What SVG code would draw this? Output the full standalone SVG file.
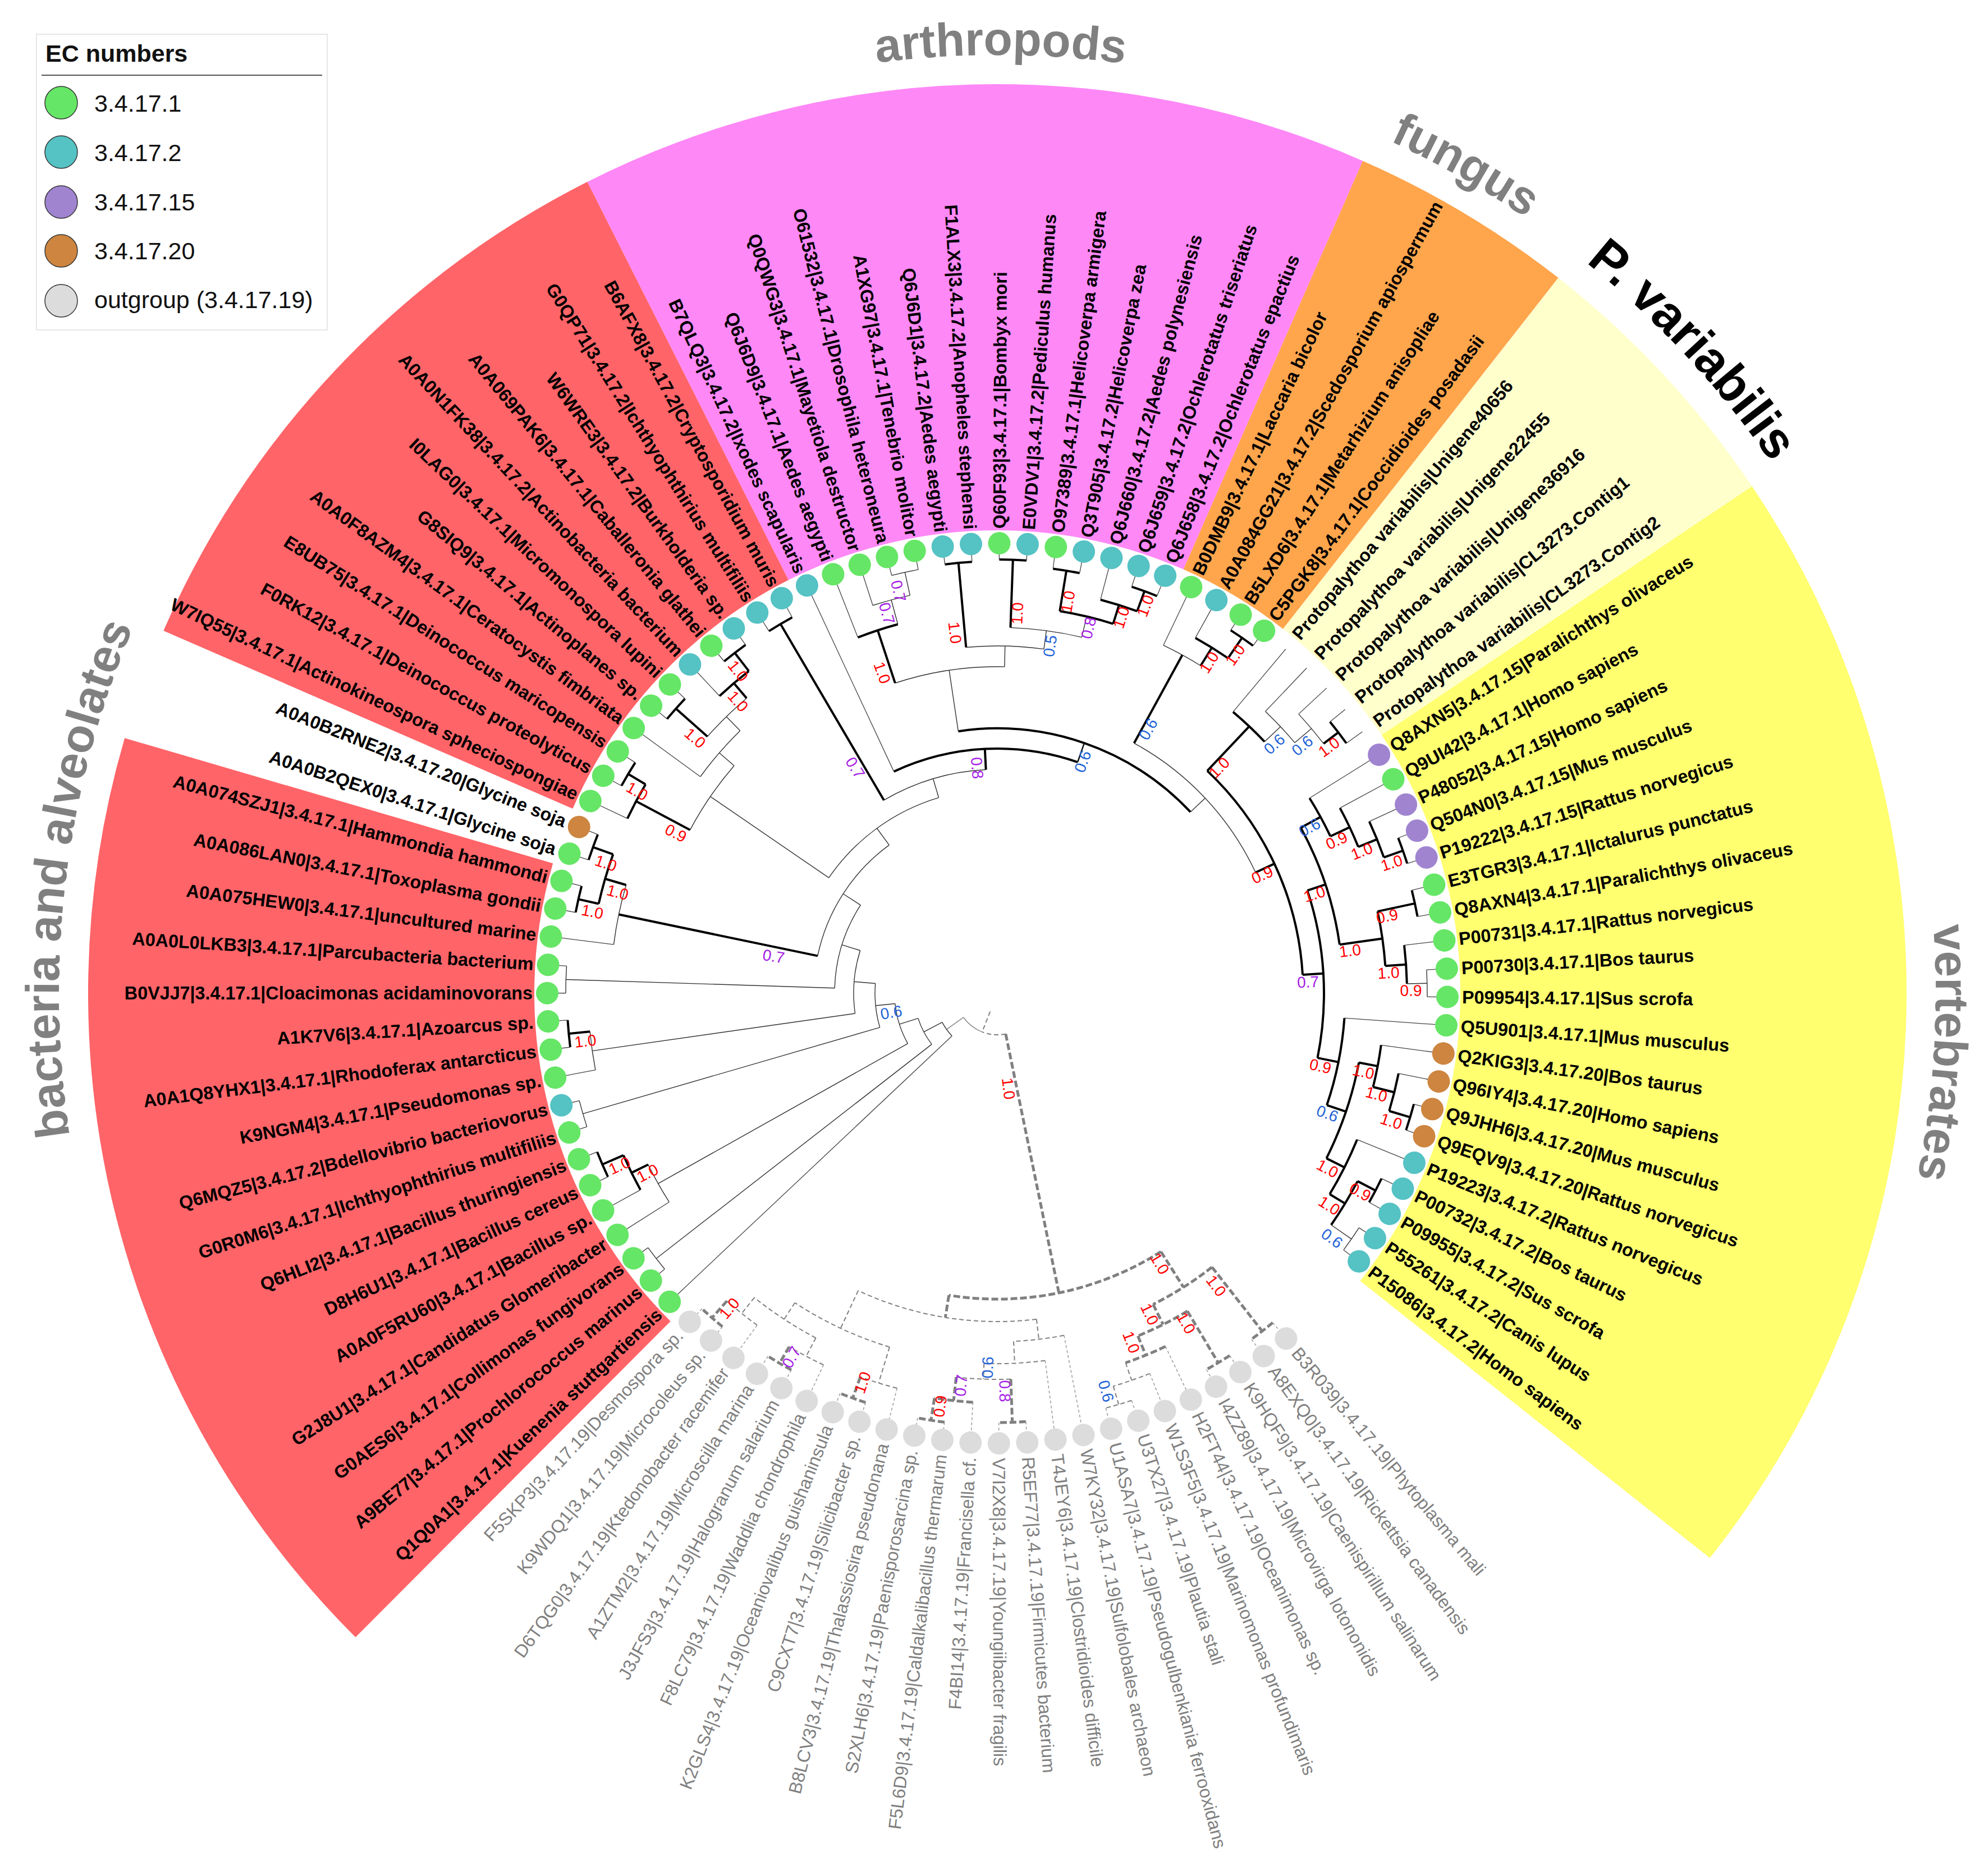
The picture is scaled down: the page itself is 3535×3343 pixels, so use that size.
<svg xmlns="http://www.w3.org/2000/svg" width="3535" height="3343" viewBox="0 0 3535 3343">
<style>
text{font-family:"Liberation Sans",Arial,Helvetica,sans-serif}
.lb{font-size:32.3px;font-weight:bold;fill:#000}
.lo{font-size:32px;fill:#7f7f7f}
.bs{font-size:28px;text-anchor:middle}
.r{fill:#ff0000}.b{fill:#1f63d6}.p{fill:#a51ee6}
.c1{fill:#66e666}.c2{fill:#55c2c4}.c15{fill:#a084d0}.c20{fill:#cd853f}.c19{fill:#dcdcdc}
.tk{stroke:#000;stroke-width:4;fill:none}
.tm{stroke:#111;stroke-width:2.5;fill:none}
.tn{stroke:#333;stroke-width:1.4;fill:none}
.lf{stroke:#444;stroke-width:1.3;fill:none}
.rg{stroke:#888;stroke-width:1.5;fill:none}
.od{stroke:#808080;stroke-width:5;stroke-dasharray:12 5;fill:none}
.ot{stroke:#808080;stroke-width:2;stroke-dasharray:8 5;fill:none}
.ol{stroke:#9a9a9a;stroke-width:1.5;stroke-dasharray:5 4;fill:none}
.sec{fill:none;stroke-width:795}
.grp{font-size:84px;font-weight:bold;fill:#808080}
.lg{font-size:43px;fill:#111}
</style>
<defs>
<path id="ring" d="M -1672 0 A 1672 1672 0 1 1 1672 0 A 1672 1672 0 1 1 -1672 0"/>
</defs>
<rect width="3535" height="3343" fill="#fff"/>
<g transform="translate(1777 1770)">
<g id="clade-backgrounds">
<circle class="sec" r="1222.5" stroke="#ff6468" pathLength="360" stroke-dasharray="61.4 400" transform="rotate(134.9)"/>
<circle class="sec" r="1222.5" stroke="#ff6468" pathLength="360" stroke-dasharray="39.7 400" transform="rotate(203.5)"/>
<circle class="sec" r="1222.5" stroke="#ff88f7" pathLength="360" stroke-dasharray="50.5 400" transform="rotate(243.2)"/>
<circle class="sec" r="1222.5" stroke="#ffa54c" pathLength="360" stroke-dasharray="14.4 400" transform="rotate(293.7)"/>
<circle class="sec" r="1222.5" stroke="#ffffcc" pathLength="360" stroke-dasharray="18 400" transform="rotate(308.1)"/>
<circle class="sec" r="1222.5" stroke="#ffff6f" pathLength="360" stroke-dasharray="72.3 400" transform="rotate(326.1)"/>
</g>
<g id="connectors">
<path class="ot" transform="rotate(78.39)" d="M74 0 A74 74 0 0 1 62.02 40.37"/>
<circle class="rg" r="74" pathLength="360" stroke-dasharray="33.05 400" transform="rotate(111.45)"/>
<line class="ot" transform="rotate(111.45)" x1="35" x2="74"/>
<line class="od" transform="rotate(78.39)" x1="74" x2="545"/>
<path class="od" transform="rotate(57.66)" d="M545 0 A545 545 0 0 1 408.5 360.8"/>
<line class="od" transform="rotate(57.66)" x1="545" x2="620"/>
<path class="od" transform="rotate(51.91)" d="M620 0 A620 620 0 0 1 607.55 123.61"/>
<line class="od" transform="rotate(51.91)" x1="620" x2="765"/>
<path class="od" transform="rotate(50.10)" d="M765 0 A765 765 0 0 1 763.48 48.17"/>
<line class="od" transform="rotate(63.41)" x1="620" x2="660"/>
<path class="od" transform="rotate(59.13)" d="M660 0 A660 660 0 0 1 652.63 98.35"/>
<line class="od" transform="rotate(59.13)" x1="660" x2="767"/>
<path class="od" transform="rotate(57.32)" d="M767 0 A767 767 0 0 1 765.48 48.29"/>
<line class="od" transform="rotate(67.70)" x1="660" x2="697"/>
<path class="od" transform="rotate(64.54)" d="M697 0 A697 697 0 0 1 692.76 76.73"/>
<line class="ot" transform="rotate(70.86)" x1="697" x2="730"/>
<path class="ot" transform="rotate(68.15)" d="M730 0 A730 730 0 0 1 726.75 68.82"/>
<line class="ot" transform="rotate(73.56)" x1="730" x2="764"/>
<path class="ot" transform="rotate(71.75)" d="M764 0 A764 764 0 0 1 762.48 48.10"/>
<line class="od" transform="rotate(99.11)" x1="545" x2="585"/>
<path class="ot" transform="rotate(83.15)" d="M585 0 A585 585 0 0 1 496.54 309.31"/>
<line class="ot" transform="rotate(83.15)" x1="585" x2="621"/>
<path class="ot" transform="rotate(78.97)" d="M621 0 A621 621 0 0 1 614.42 90.18"/>
<line class="ot" transform="rotate(87.32)" x1="621" x2="660"/>
<path class="ot" transform="rotate(82.58)" d="M660 0 A660 660 0 0 1 650.98 108.70"/>
<line class="ot" transform="rotate(92.06)" x1="660" x2="688"/>
<path class="ot" transform="rotate(88.0)" d="M688 0 A688 688 0 0 1 681.10 97.18"/>
<line class="od" transform="rotate(88.0)" x1="688" x2="765"/>
<path class="od" transform="rotate(86.19)" d="M765 0 A765 765 0 0 1 763.48 48.17"/>
<line class="od" transform="rotate(96.12)" x1="688" x2="730"/>
<path class="od" transform="rotate(93.41)" d="M730 0 A730 730 0 0 1 726.74 68.96"/>
<line class="od" transform="rotate(98.83)" x1="730" x2="770"/>
<path class="od" transform="rotate(97.02)" d="M770 0 A770 770 0 0 1 768.47 48.48"/>
<line class="ot" transform="rotate(115.07)" x1="585" x2="659"/>
<path class="ot" transform="rotate(106.94)" d="M659 0 A659 659 0 0 1 632.67 184.41"/>
<line class="ot" transform="rotate(106.94)" x1="659" x2="726"/>
<path class="ot" transform="rotate(104.24)" d="M726 0 A726 726 0 0 1 722.77 68.45"/>
<line class="od" transform="rotate(109.65)" x1="726" x2="766"/>
<path class="od" transform="rotate(107.84)" d="M766 0 A766 766 0 0 1 764.48 48.23"/>
<line class="ot" transform="rotate(123.19)" x1="659" x2="694"/>
<path class="ot" transform="rotate(117.77)" d="M694 0 A694 694 0 0 1 681.64 130.40"/>
<line class="ot" transform="rotate(117.77)" x1="694" x2="731"/>
<path class="ot" transform="rotate(115.06)" d="M731 0 A731 731 0 0 1 727.73 69.05"/>
<line class="od" transform="rotate(120.48)" x1="731" x2="765"/>
<path class="od" transform="rotate(118.67)" d="M765 0 A765 765 0 0 1 763.48 48.17"/>
<line class="ot" transform="rotate(128.6)" x1="694" x2="730"/>
<path class="ot" transform="rotate(125.89)" d="M730 0 A730 730 0 0 1 726.74 68.96"/>
<line class="od" transform="rotate(131.31)" x1="730" x2="770"/>
<path class="od" transform="rotate(129.50)" d="M770 0 A770 770 0 0 1 768.47 48.48"/>
<line class="ol" transform="rotate(50.10)" x1="765" x2="800"/>
<line class="ol" transform="rotate(53.71)" x1="765" x2="800"/>
<line class="ol" transform="rotate(57.32)" x1="767" x2="800"/>
<line class="ol" transform="rotate(60.93)" x1="767" x2="800"/>
<line class="ol" transform="rotate(64.54)" x1="697" x2="800"/>
<line class="ol" transform="rotate(68.15)" x1="730" x2="800"/>
<line class="ol" transform="rotate(71.75)" x1="764" x2="800"/>
<line class="ol" transform="rotate(75.36)" x1="764" x2="800"/>
<line class="ol" transform="rotate(78.97)" x1="621" x2="800"/>
<line class="ol" transform="rotate(82.58)" x1="660" x2="800"/>
<line class="ol" transform="rotate(86.19)" x1="765" x2="800"/>
<line class="ol" transform="rotate(89.80)" x1="765" x2="800"/>
<line class="ol" transform="rotate(93.41)" x1="730" x2="800"/>
<line class="ol" transform="rotate(97.02)" x1="770" x2="800"/>
<line class="ol" transform="rotate(100.63)" x1="770" x2="800"/>
<line class="ol" transform="rotate(104.24)" x1="726" x2="800"/>
<line class="ol" transform="rotate(107.84)" x1="766" x2="800"/>
<line class="ol" transform="rotate(111.45)" x1="766" x2="800"/>
<line class="ol" transform="rotate(115.06)" x1="731" x2="800"/>
<line class="ol" transform="rotate(118.67)" x1="765" x2="800"/>
<line class="ol" transform="rotate(122.28)" x1="765" x2="800"/>
<line class="ol" transform="rotate(125.89)" x1="730" x2="800"/>
<line class="ol" transform="rotate(129.50)" x1="770" x2="800"/>
<line class="ol" transform="rotate(133.11)" x1="770" x2="800"/>
<line class="rg" transform="rotate(144.5)" x1="74" x2="111"/>
<circle class="tn" r="111" pathLength="360" stroke-dasharray="15.57 400" transform="rotate(136.72)"/>
<line class="tn" transform="rotate(152.29)" x1="111" x2="148"/>
<circle class="tn" r="148" pathLength="360" stroke-dasharray="20.32 400" transform="rotate(142.13)"/>
<line class="tn" transform="rotate(162.45)" x1="148" x2="183"/>
<circle class="tn" r="183" pathLength="360" stroke-dasharray="23.5 400" transform="rotate(150.70)"/>
<line class="tn" transform="rotate(174.2)" x1="183" x2="218"/>
<circle class="tn" r="218" pathLength="360" stroke-dasharray="20.83 400" transform="rotate(163.79)"/>
<line class="tn" transform="rotate(184.62)" x1="218" x2="256"/>
<circle class="tn" r="256" pathLength="360" stroke-dasharray="25.42 400" transform="rotate(171.91)"/>
<line class="tn" transform="rotate(197.33)" x1="256" x2="290"/>
<circle class="tn" r="290" pathLength="360" stroke-dasharray="30.99 400" transform="rotate(181.83)"/>
<line class="tn" transform="rotate(212.82)" x1="290" x2="327"/>
<circle class="tn" r="327" pathLength="360" stroke-dasharray="42.12 400" transform="rotate(191.76)"/>
<line class="tn" transform="rotate(233.88)" x1="327" x2="364"/>
<circle class="tn" r="364" pathLength="360" stroke-dasharray="38.9 400" transform="rotate(214.43)"/>
<line class="tn" transform="rotate(253.33)" x1="364" x2="399"/>
<circle class="tn" r="399" pathLength="360" stroke-dasharray="27.5 400" transform="rotate(239.58)"/>
<line class="tn" transform="rotate(142.13)" x1="148" x2="770"/>
<circle class="tn" r="770" pathLength="360" stroke-dasharray="3.6 400" transform="rotate(140.33)"/>
<line class="tn" transform="rotate(150.70)" x1="183" x2="693"/>
<circle class="tn" r="693" pathLength="360" stroke-dasharray="6.32 400" transform="rotate(147.54)"/>
<line class="tk" transform="rotate(153.86)" x1="693" x2="726"/>
<circle class="tk" r="726" pathLength="360" stroke-dasharray="5.42 400" transform="rotate(151.15)"/>
<line class="tk" transform="rotate(156.57)" x1="726" x2="767"/>
<circle class="tk" r="767" pathLength="360" stroke-dasharray="3.61 400" transform="rotate(154.76)"/>
<line class="tn" transform="rotate(163.79)" x1="218" x2="769"/>
<circle class="tn" r="769" pathLength="360" stroke-dasharray="3.61 400" transform="rotate(161.98)"/>
<line class="tn" transform="rotate(171.91)" x1="256" x2="729"/>
<circle class="tn" r="729" pathLength="360" stroke-dasharray="5.42 400" transform="rotate(169.20)"/>
<line class="tk" transform="rotate(174.62)" x1="729" x2="767"/>
<circle class="tk" r="767" pathLength="360" stroke-dasharray="3.61 400" transform="rotate(172.81)"/>
<line class="tn" transform="rotate(181.83)" x1="290" x2="769"/>
<circle class="tn" r="769" pathLength="360" stroke-dasharray="3.61 400" transform="rotate(180.02)"/>
<line class="tk" transform="rotate(191.76)" x1="327" x2="689"/>
<circle class="tn" r="689" pathLength="360" stroke-dasharray="9.03 400" transform="rotate(187.24)"/>
<line class="tk" transform="rotate(196.27)" x1="689" x2="728"/>
<circle class="tk" r="728" pathLength="360" stroke-dasharray="7.22 400" transform="rotate(192.66)"/>
<line class="tk" transform="rotate(192.66)" x1="728" x2="765"/>
<circle class="tk" r="765" pathLength="360" stroke-dasharray="3.61 400" transform="rotate(190.85)"/>
<line class="tk" transform="rotate(199.88)" x1="728" x2="766"/>
<circle class="tk" r="766" pathLength="360" stroke-dasharray="3.61 400" transform="rotate(198.07)"/>
<line class="tn" transform="rotate(214.43)" x1="364" x2="620"/>
<circle class="tn" r="620" pathLength="360" stroke-dasharray="12.85 400" transform="rotate(208.0)"/>
<line class="tk" transform="rotate(208.0)" x1="620" x2="729"/>
<circle class="tk" r="729" pathLength="360" stroke-dasharray="5.42 400" transform="rotate(205.29)"/>
<line class="tk" transform="rotate(210.71)" x1="729" x2="765"/>
<circle class="tk" r="765" pathLength="360" stroke-dasharray="3.61 400" transform="rotate(208.90)"/>
<line class="tn" transform="rotate(220.85)" x1="620" x2="655"/>
<circle class="tn" r="655" pathLength="360" stroke-dasharray="9.48 400" transform="rotate(216.11)"/>
<line class="tn" transform="rotate(225.59)" x1="655" x2="690"/>
<circle class="tn" r="690" pathLength="360" stroke-dasharray="8.12 400" transform="rotate(221.53)"/>
<line class="tk" transform="rotate(221.53)" x1="690" x2="765"/>
<circle class="tk" r="765" pathLength="360" stroke-dasharray="3.61 400" transform="rotate(219.72)"/>
<line class="tk" transform="rotate(229.65)" x1="690" x2="725"/>
<circle class="tk" r="725" pathLength="360" stroke-dasharray="5.42 400" transform="rotate(226.94)"/>
<line class="tk" transform="rotate(232.36)" x1="725" x2="766"/>
<circle class="tk" r="766" pathLength="360" stroke-dasharray="3.61 400" transform="rotate(230.55)"/>
<line class="tk" transform="rotate(239.58)" x1="399" x2="763"/>
<circle class="tk" r="763" pathLength="360" stroke-dasharray="3.61 400" transform="rotate(237.77)"/>
<line class="tk" transform="rotate(267.08)" x1="399" x2="436"/>
<circle class="tk" r="436" pathLength="360" stroke-dasharray="44.17 400" transform="rotate(244.99)"/>
<line class="tm" transform="rotate(289.16)" x1="436" x2="472"/>
<circle class="tk" r="472" pathLength="360" stroke-dasharray="55.28 400" transform="rotate(261.52)"/>
<line class="tn" transform="rotate(261.52)" x1="472" x2="582"/>
<circle class="tn" r="582" pathLength="360" stroke-dasharray="19.51 400" transform="rotate(251.76)"/>
<line class="tk" transform="rotate(251.76)" x1="582" x2="681"/>
<circle class="tk" r="681" pathLength="360" stroke-dasharray="6.31 400" transform="rotate(248.60)"/>
<line class="tn" transform="rotate(254.91)" x1="681" x2="726"/>
<circle class="tn" r="726" pathLength="360" stroke-dasharray="5.42 400" transform="rotate(252.20)"/>
<line class="tn" transform="rotate(257.62)" x1="726" x2="768"/>
<circle class="tn" r="768" pathLength="360" stroke-dasharray="3.61 400" transform="rotate(255.81)"/>
<line class="tn" transform="rotate(271.27)" x1="582" x2="619"/>
<circle class="tn" r="619" pathLength="360" stroke-dasharray="12.86 400" transform="rotate(264.84)"/>
<line class="tk" transform="rotate(264.84)" x1="619" x2="770"/>
<circle class="tk" r="770" pathLength="360" stroke-dasharray="3.61 400" transform="rotate(263.03)"/>
<line class="tn" transform="rotate(277.70)" x1="619" x2="652"/>
<circle class="tn" r="652" pathLength="360" stroke-dasharray="11.28 400" transform="rotate(272.06)"/>
<line class="tk" transform="rotate(272.06)" x1="652" x2="773"/>
<circle class="tk" r="773" pathLength="360" stroke-dasharray="3.61 400" transform="rotate(270.25)"/>
<line class="tn" transform="rotate(283.34)" x1="652" x2="690"/>
<circle class="tk" r="690" pathLength="360" stroke-dasharray="8.12 400" transform="rotate(279.28)"/>
<line class="tk" transform="rotate(279.28)" x1="690" x2="763"/>
<circle class="tk" r="763" pathLength="360" stroke-dasharray="3.61 400" transform="rotate(277.47)"/>
<line class="tk" transform="rotate(287.40)" x1="690" x2="725"/>
<circle class="tk" r="725" pathLength="360" stroke-dasharray="5.41 400" transform="rotate(284.69)"/>
<line class="tk" transform="rotate(290.10)" x1="725" x2="763"/>
<circle class="tk" r="763" pathLength="360" stroke-dasharray="3.61 400" transform="rotate(288.29)"/>
<line class="tn" transform="rotate(316.80)" x1="472" x2="508"/>
<circle class="tn" r="508" pathLength="360" stroke-dasharray="36.26 400" transform="rotate(298.67)"/>
<line class="tk" transform="rotate(298.67)" x1="508" x2="687"/>
<circle class="tn" r="687" pathLength="360" stroke-dasharray="6.32 400" transform="rotate(295.51)"/>
<line class="tk" transform="rotate(301.83)" x1="687" x2="725"/>
<circle class="tk" r="725" pathLength="360" stroke-dasharray="5.42 400" transform="rotate(299.12)"/>
<line class="tk" transform="rotate(304.54)" x1="725" x2="769"/>
<circle class="tk" r="769" pathLength="360" stroke-dasharray="3.61 400" transform="rotate(302.73)"/>
<line class="tk" transform="rotate(334.93)" x1="508" x2="545"/>
<circle class="tk" r="545" pathLength="360" stroke-dasharray="43.19 400" transform="rotate(313.34)"/>
<line class="tk" transform="rotate(313.34)" x1="545" x2="654"/>
<circle class="tk" r="654" pathLength="360" stroke-dasharray="6.77 400" transform="rotate(309.95)"/>
<line class="tn" transform="rotate(316.72)" x1="654" x2="693"/>
<circle class="tn" r="693" pathLength="360" stroke-dasharray="6.32 400" transform="rotate(313.56)"/>
<line class="tn" transform="rotate(319.88)" x1="693" x2="732"/>
<circle class="tn" r="732" pathLength="360" stroke-dasharray="5.41 400" transform="rotate(317.17)"/>
<line class="tk" transform="rotate(322.58)" x1="732" x2="765"/>
<circle class="tk" r="765" pathLength="360" stroke-dasharray="3.6 400" transform="rotate(320.78)"/>
<line class="tk" transform="rotate(356.53)" x1="545" x2="582"/>
<circle class="tk" r="582" pathLength="360" stroke-dasharray="29.76 400" transform="rotate(341.65)"/>
<line class="tk" transform="rotate(341.65)" x1="582" x2="616"/>
<circle class="tk" r="616" pathLength="360" stroke-dasharray="20.53 400" transform="rotate(331.38)"/>
<line class="tk" transform="rotate(331.38)" x1="616" x2="656"/>
<circle class="tk" r="656" pathLength="360" stroke-dasharray="6.77 400" transform="rotate(327.99)"/>
<line class="tk" transform="rotate(334.76)" x1="656" x2="694"/>
<circle class="tk" r="694" pathLength="360" stroke-dasharray="6.32 400" transform="rotate(331.60)"/>
<line class="tk" transform="rotate(337.92)" x1="694" x2="730"/>
<circle class="tk" r="730" pathLength="360" stroke-dasharray="5.42 400" transform="rotate(335.21)"/>
<line class="tk" transform="rotate(340.63)" x1="730" x2="766"/>
<circle class="tk" r="766" pathLength="360" stroke-dasharray="3.61 400" transform="rotate(338.82)"/>
<line class="tk" transform="rotate(351.91)" x1="616" x2="693"/>
<circle class="tk" r="693" pathLength="360" stroke-dasharray="8.12 400" transform="rotate(347.85)"/>
<line class="tk" transform="rotate(347.85)" x1="693" x2="761"/>
<circle class="tk" r="761" pathLength="360" stroke-dasharray="3.61 400" transform="rotate(346.04)"/>
<line class="tk" transform="rotate(355.97)" x1="693" x2="730"/>
<circle class="tk" r="730" pathLength="360" stroke-dasharray="5.41 400" transform="rotate(353.26)"/>
<line class="tn" transform="rotate(358.67)" x1="730" x2="766"/>
<circle class="tn" r="766" pathLength="360" stroke-dasharray="3.6 400" transform="rotate(356.87)"/>
<line class="tk" transform="rotate(371.41)" x1="582" x2="620"/>
<circle class="tk" r="620" pathLength="360" stroke-dasharray="14.67 400" transform="rotate(364.08)"/>
<line class="tk" transform="rotate(378.75)" x1="620" x2="656"/>
<circle class="tk" r="656" pathLength="360" stroke-dasharray="15.79 400" transform="rotate(370.85)"/>
<line class="tk" transform="rotate(370.85)" x1="656" x2="690"/>
<circle class="tk" r="690" pathLength="360" stroke-dasharray="6.32 400" transform="rotate(367.69)"/>
<line class="tk" transform="rotate(374.01)" x1="690" x2="729"/>
<circle class="tk" r="729" pathLength="360" stroke-dasharray="5.42 400" transform="rotate(371.30)"/>
<line class="tk" transform="rotate(376.72)" x1="729" x2="768"/>
<circle class="tk" r="768" pathLength="360" stroke-dasharray="3.61 400" transform="rotate(374.91)"/>
<line class="tk" transform="rotate(386.64)" x1="656" x2="692"/>
<circle class="tk" r="692" pathLength="360" stroke-dasharray="9.03 400" transform="rotate(382.13)"/>
<line class="tk" transform="rotate(391.16)" x1="692" x2="724"/>
<circle class="tk" r="724" pathLength="360" stroke-dasharray="7.21 400" transform="rotate(387.55)"/>
<line class="tk" transform="rotate(387.55)" x1="724" x2="760"/>
<circle class="tk" r="760" pathLength="360" stroke-dasharray="3.61 400" transform="rotate(385.74)"/>
<line class="tn" transform="rotate(394.76)" x1="724" x2="768"/>
<circle class="tn" r="768" pathLength="360" stroke-dasharray="3.6 400" transform="rotate(392.96)"/>
<line class="lf" transform="rotate(136.72)" x1="111" x2="800"/>
<line class="lf" transform="rotate(140.33)" x1="770" x2="800"/>
<line class="lf" transform="rotate(143.93)" x1="770" x2="800"/>
<line class="lf" transform="rotate(147.54)" x1="693" x2="800"/>
<line class="lf" transform="rotate(151.15)" x1="726" x2="800"/>
<line class="lf" transform="rotate(154.76)" x1="767" x2="800"/>
<line class="lf" transform="rotate(158.37)" x1="767" x2="800"/>
<line class="lf" transform="rotate(161.98)" x1="769" x2="800"/>
<line class="lf" transform="rotate(165.59)" x1="769" x2="800"/>
<line class="lf" transform="rotate(169.20)" x1="729" x2="800"/>
<line class="lf" transform="rotate(172.81)" x1="767" x2="800"/>
<line class="lf" transform="rotate(176.42)" x1="767" x2="800"/>
<line class="lf" transform="rotate(180.02)" x1="769" x2="800"/>
<line class="lf" transform="rotate(183.63)" x1="769" x2="800"/>
<line class="lf" transform="rotate(187.24)" x1="689" x2="800"/>
<line class="lf" transform="rotate(190.85)" x1="765" x2="800"/>
<line class="lf" transform="rotate(194.46)" x1="765" x2="800"/>
<line class="lf" transform="rotate(198.07)" x1="766" x2="800"/>
<line class="lf" transform="rotate(201.68)" x1="766" x2="800"/>
<line class="lf" transform="rotate(205.29)" x1="729" x2="800"/>
<line class="lf" transform="rotate(208.90)" x1="765" x2="800"/>
<line class="lf" transform="rotate(212.51)" x1="765" x2="800"/>
<line class="lf" transform="rotate(216.11)" x1="655" x2="800"/>
<line class="lf" transform="rotate(219.72)" x1="765" x2="800"/>
<line class="lf" transform="rotate(223.33)" x1="765" x2="800"/>
<line class="lf" transform="rotate(226.94)" x1="725" x2="800"/>
<line class="lf" transform="rotate(230.55)" x1="766" x2="800"/>
<line class="lf" transform="rotate(234.16)" x1="766" x2="800"/>
<line class="lf" transform="rotate(237.77)" x1="763" x2="800"/>
<line class="lf" transform="rotate(241.38)" x1="763" x2="800"/>
<line class="lf" transform="rotate(244.99)" x1="436" x2="800"/>
<line class="lf" transform="rotate(248.60)" x1="681" x2="800"/>
<line class="lf" transform="rotate(252.20)" x1="726" x2="800"/>
<line class="lf" transform="rotate(255.81)" x1="768" x2="800"/>
<line class="lf" transform="rotate(259.42)" x1="768" x2="800"/>
<line class="lf" transform="rotate(263.03)" x1="770" x2="800"/>
<line class="lf" transform="rotate(266.64)" x1="770" x2="800"/>
<line class="lf" transform="rotate(270.25)" x1="773" x2="800"/>
<line class="lf" transform="rotate(273.86)" x1="773" x2="800"/>
<line class="lf" transform="rotate(277.47)" x1="763" x2="800"/>
<line class="lf" transform="rotate(281.08)" x1="763" x2="800"/>
<line class="lf" transform="rotate(284.69)" x1="725" x2="800"/>
<line class="lf" transform="rotate(288.29)" x1="763" x2="800"/>
<line class="lf" transform="rotate(291.90)" x1="763" x2="800"/>
<line class="lf" transform="rotate(295.51)" x1="687" x2="800"/>
<line class="lf" transform="rotate(299.12)" x1="725" x2="800"/>
<line class="lf" transform="rotate(302.73)" x1="769" x2="800"/>
<line class="lf" transform="rotate(306.34)" x1="769" x2="800"/>
<line class="lf" transform="rotate(309.95)" x1="654" x2="800"/>
<line class="lf" transform="rotate(313.56)" x1="693" x2="800"/>
<line class="lf" transform="rotate(317.17)" x1="732" x2="800"/>
<line class="lf" transform="rotate(320.78)" x1="765" x2="800"/>
<line class="lf" transform="rotate(324.38)" x1="765" x2="800"/>
<line class="lf" transform="rotate(327.99)" x1="656" x2="800"/>
<line class="lf" transform="rotate(331.60)" x1="694" x2="800"/>
<line class="lf" transform="rotate(335.21)" x1="730" x2="800"/>
<line class="lf" transform="rotate(338.82)" x1="766" x2="800"/>
<line class="lf" transform="rotate(342.43)" x1="766" x2="800"/>
<line class="lf" transform="rotate(346.04)" x1="761" x2="800"/>
<line class="lf" transform="rotate(349.65)" x1="761" x2="800"/>
<line class="lf" transform="rotate(353.26)" x1="730" x2="800"/>
<line class="lf" transform="rotate(356.87)" x1="766" x2="800"/>
<line class="lf" transform="rotate(360.47)" x1="766" x2="800"/>
<line class="lf" transform="rotate(364.08)" x1="620" x2="800"/>
<line class="lf" transform="rotate(367.69)" x1="690" x2="800"/>
<line class="lf" transform="rotate(371.30)" x1="729" x2="800"/>
<line class="lf" transform="rotate(374.91)" x1="768" x2="800"/>
<line class="lf" transform="rotate(378.52)" x1="768" x2="800"/>
<line class="lf" transform="rotate(382.13)" x1="692" x2="800"/>
<line class="lf" transform="rotate(385.74)" x1="760" x2="800"/>
<line class="lf" transform="rotate(389.35)" x1="760" x2="800"/>
<line class="lf" transform="rotate(392.96)" x1="768" x2="800"/>
<line class="lf" transform="rotate(396.56)" x1="768" x2="800"/>
</g>
<g id="leaves">
<g id="B3R039" transform="rotate(50.10)"><circle cx="802" r="20" class="c19"/><text class="lo" x="828" dy=".35em">B3R039|3.4.17.19|Phytoplasma mali</text></g>
<g id="A8EXQ0" transform="rotate(53.71)"><circle cx="802" r="20" class="c19"/><text class="lo" x="828" dy=".35em">A8EXQ0|3.4.17.19|Rickettsia canadensis</text></g>
<g id="K9HQF9" transform="rotate(57.32)"><circle cx="802" r="20" class="c19"/><text class="lo" x="828" dy=".35em">K9HQF9|3.4.17.19|Caenispirillum salinarum</text></g>
<g id="I4ZZ89" transform="rotate(60.93)"><circle cx="802" r="20" class="c19"/><text class="lo" x="828" dy=".35em">I4ZZ89|3.4.17.19|Microvirga lotononidis</text></g>
<g id="H2FT44" transform="rotate(64.54)"><circle cx="802" r="20" class="c19"/><text class="lo" x="828" dy=".35em">H2FT44|3.4.17.19|Oceanimonas sp.</text></g>
<g id="W1S3F5" transform="rotate(68.15)"><circle cx="802" r="20" class="c19"/><text class="lo" x="828" dy=".35em">W1S3F5|3.4.17.19|Marinomonas profundimaris</text></g>
<g id="U3TX27" transform="rotate(71.75)"><circle cx="802" r="20" class="c19"/><text class="lo" x="828" dy=".35em">U3TX27|3.4.17.19|Plautia stali</text></g>
<g id="U1ASA7" transform="rotate(75.36)"><circle cx="802" r="20" class="c19"/><text class="lo" x="828" dy=".35em">U1ASA7|3.4.17.19|Pseudogulbenkiania ferrooxidans</text></g>
<g id="W7KY32" transform="rotate(78.97)"><circle cx="802" r="20" class="c19"/><text class="lo" x="828" dy=".35em">W7KY32|3.4.17.19|Sulfolobales archaeon</text></g>
<g id="T4JEY6" transform="rotate(82.58)"><circle cx="802" r="20" class="c19"/><text class="lo" x="828" dy=".35em">T4JEY6|3.4.17.19|Clostridioides difficile</text></g>
<g id="R5EF77" transform="rotate(86.19)"><circle cx="802" r="20" class="c19"/><text class="lo" x="828" dy=".35em">R5EF77|3.4.17.19|Firmicutes bacterium</text></g>
<g id="V7I2X8" transform="rotate(89.80)"><circle cx="802" r="20" class="c19"/><text class="lo" x="828" dy=".35em">V7I2X8|3.4.17.19|Youngiibacter fragilis</text></g>
<g id="F4BI14" transform="rotate(93.41)"><circle cx="802" r="20" class="c19"/><text class="lo" transform="scale(-1)" x="-828" dy=".35em" text-anchor="end">F4BI14|3.4.17.19|Francisella cf.</text></g>
<g id="F5L6D9" transform="rotate(97.02)"><circle cx="802" r="20" class="c19"/><text class="lo" transform="scale(-1)" x="-828" dy=".35em" text-anchor="end">F5L6D9|3.4.17.19|Caldalkalibacillus thermarum</text></g>
<g id="S2XLH6" transform="rotate(100.63)"><circle cx="802" r="20" class="c19"/><text class="lo" transform="scale(-1)" x="-828" dy=".35em" text-anchor="end">S2XLH6|3.4.17.19|Paenisporosarcina sp.</text></g>
<g id="B8LCV3" transform="rotate(104.24)"><circle cx="802" r="20" class="c19"/><text class="lo" transform="scale(-1)" x="-828" dy=".35em" text-anchor="end">B8LCV3|3.4.17.19|Thalassiosira pseudonana</text></g>
<g id="C9CXT7" transform="rotate(107.84)"><circle cx="802" r="20" class="c19"/><text class="lo" transform="scale(-1)" x="-828" dy=".35em" text-anchor="end">C9CXT7|3.4.17.19|Silicibacter sp.</text></g>
<g id="K2GLS4" transform="rotate(111.45)"><circle cx="802" r="20" class="c19"/><text class="lo" transform="scale(-1)" x="-828" dy=".35em" text-anchor="end">K2GLS4|3.4.17.19|Oceaniovalibus guishaninsula</text></g>
<g id="F8LC79" transform="rotate(115.06)"><circle cx="802" r="20" class="c19"/><text class="lo" transform="scale(-1)" x="-828" dy=".35em" text-anchor="end">F8LC79|3.4.17.19|Waddlia chondrophila</text></g>
<g id="J3JFS3" transform="rotate(118.67)"><circle cx="802" r="20" class="c19"/><text class="lo" transform="scale(-1)" x="-828" dy=".35em" text-anchor="end">J3JFS3|3.4.17.19|Halogranum salarium</text></g>
<g id="A1ZTM2" transform="rotate(122.28)"><circle cx="802" r="20" class="c19"/><text class="lo" transform="scale(-1)" x="-828" dy=".35em" text-anchor="end">A1ZTM2|3.4.17.19|Microscilla marina</text></g>
<g id="D6TQG0" transform="rotate(125.89)"><circle cx="802" r="20" class="c19"/><text class="lo" transform="scale(-1)" x="-828" dy=".35em" text-anchor="end">D6TQG0|3.4.17.19|Ktedonobacter racemifer</text></g>
<g id="K9WDQ1" transform="rotate(129.50)"><circle cx="802" r="20" class="c19"/><text class="lo" transform="scale(-1)" x="-828" dy=".35em" text-anchor="end">K9WDQ1|3.4.17.19|Microcoleus sp.</text></g>
<g id="F5SKP3" transform="rotate(133.11)"><circle cx="802" r="20" class="c19"/><text class="lo" transform="scale(-1)" x="-828" dy=".35em" text-anchor="end">F5SKP3|3.4.17.19|Desmospora sp.</text></g>
<g id="Q1Q0A1" transform="rotate(136.72)"><circle cx="802" r="20" class="c1"/><text class="lb" transform="scale(-1)" x="-828" dy=".35em" text-anchor="end">Q1Q0A1|3.4.17.1|Kuenenia stuttgartiensis</text></g>
<g id="A9BE77" transform="rotate(140.33)"><circle cx="802" r="20" class="c1"/><text class="lb" transform="scale(-1)" x="-828" dy=".35em" text-anchor="end">A9BE77|3.4.17.1|Prochlorococcus marinus</text></g>
<g id="G0AES6" transform="rotate(143.93)"><circle cx="802" r="20" class="c1"/><text class="lb" transform="scale(-1)" x="-828" dy=".35em" text-anchor="end">G0AES6|3.4.17.1|Collimonas fungivorans</text></g>
<g id="G2J8U1" transform="rotate(147.54)"><circle cx="802" r="20" class="c1"/><text class="lb" transform="scale(-1)" x="-828" dy=".35em" text-anchor="end">G2J8U1|3.4.17.1|Candidatus Glomeribacter</text></g>
<g id="A0A0F5RU60" transform="rotate(151.15)"><circle cx="802" r="20" class="c1"/><text class="lb" transform="scale(-1)" x="-828" dy=".35em" text-anchor="end">A0A0F5RU60|3.4.17.1|Bacillus sp.</text></g>
<g id="D8H6U1" transform="rotate(154.76)"><circle cx="802" r="20" class="c1"/><text class="lb" transform="scale(-1)" x="-828" dy=".35em" text-anchor="end">D8H6U1|3.4.17.1|Bacillus cereus</text></g>
<g id="Q6HLI2" transform="rotate(158.37)"><circle cx="802" r="20" class="c1"/><text class="lb" transform="scale(-1)" x="-828" dy=".35em" text-anchor="end">Q6HLI2|3.4.17.1|Bacillus thuringiensis</text></g>
<g id="G0R0M6" transform="rotate(161.98)"><circle cx="802" r="20" class="c1"/><text class="lb" transform="scale(-1)" x="-828" dy=".35em" text-anchor="end">G0R0M6|3.4.17.1|Ichthyophthirius multifiliis</text></g>
<g id="Q6MQZ5" transform="rotate(165.59)"><circle cx="802" r="20" class="c2"/><text class="lb" transform="scale(-1)" x="-828" dy=".35em" text-anchor="end">Q6MQZ5|3.4.17.2|Bdellovibrio bacteriovorus</text></g>
<g id="K9NGM4" transform="rotate(169.20)"><circle cx="802" r="20" class="c1"/><text class="lb" transform="scale(-1)" x="-828" dy=".35em" text-anchor="end">K9NGM4|3.4.17.1|Pseudomonas sp.</text></g>
<g id="A0A1Q8YHX1" transform="rotate(172.81)"><circle cx="802" r="20" class="c1"/><text class="lb" transform="scale(-1)" x="-828" dy=".35em" text-anchor="end">A0A1Q8YHX1|3.4.17.1|Rhodoferax antarcticus</text></g>
<g id="A1K7V6" transform="rotate(176.42)"><circle cx="802" r="20" class="c1"/><text class="lb" transform="scale(-1)" x="-828" dy=".35em" text-anchor="end">A1K7V6|3.4.17.1|Azoarcus sp.</text></g>
<g id="B0VJJ7" transform="rotate(180.02)"><circle cx="802" r="20" class="c1"/><text class="lb" transform="scale(-1)" x="-828" dy=".35em" text-anchor="end">B0VJJ7|3.4.17.1|Cloacimonas acidaminovorans</text></g>
<g id="A0A0L0LKB3" transform="rotate(183.63)"><circle cx="802" r="20" class="c1"/><text class="lb" transform="scale(-1)" x="-828" dy=".35em" text-anchor="end">A0A0L0LKB3|3.4.17.1|Parcubacteria bacterium</text></g>
<g id="A0A075HEW0" transform="rotate(187.24)"><circle cx="802" r="20" class="c1"/><text class="lb" transform="scale(-1)" x="-828" dy=".35em" text-anchor="end">A0A075HEW0|3.4.17.1|uncultured marine</text></g>
<g id="A0A086LAN0" transform="rotate(190.85)"><circle cx="802" r="20" class="c1"/><text class="lb" transform="scale(-1)" x="-828" dy=".35em" text-anchor="end">A0A086LAN0|3.4.17.1|Toxoplasma gondii</text></g>
<g id="A0A074SZJ1" transform="rotate(194.46)"><circle cx="802" r="20" class="c1"/><text class="lb" transform="scale(-1)" x="-828" dy=".35em" text-anchor="end">A0A074SZJ1|3.4.17.1|Hammondia hammondi</text></g>
<g id="A0A0B2QEX0" transform="rotate(198.07)"><circle cx="802" r="20" class="c1"/><text class="lb" transform="scale(-1)" x="-828" dy=".35em" text-anchor="end">A0A0B2QEX0|3.4.17.1|Glycine soja</text></g>
<g id="A0A0B2RNE2" transform="rotate(201.68)"><circle cx="802" r="20" class="c20"/><text class="lb" transform="scale(-1)" x="-828" dy=".35em" text-anchor="end">A0A0B2RNE2|3.4.17.20|Glycine soja</text></g>
<g id="W7IQ55" transform="rotate(205.29)"><circle cx="802" r="20" class="c1"/><text class="lb" transform="scale(-1)" x="-828" dy=".35em" text-anchor="end">W7IQ55|3.4.17.1|Actinokineospora spheciospongiae</text></g>
<g id="F0RK12" transform="rotate(208.90)"><circle cx="802" r="20" class="c1"/><text class="lb" transform="scale(-1)" x="-828" dy=".35em" text-anchor="end">F0RK12|3.4.17.1|Deinococcus proteolyticus</text></g>
<g id="E8UB75" transform="rotate(212.51)"><circle cx="802" r="20" class="c1"/><text class="lb" transform="scale(-1)" x="-828" dy=".35em" text-anchor="end">E8UB75|3.4.17.1|Deinococcus maricopensis</text></g>
<g id="A0A0F8AZM4" transform="rotate(216.11)"><circle cx="802" r="20" class="c1"/><text class="lb" transform="scale(-1)" x="-828" dy=".35em" text-anchor="end">A0A0F8AZM4|3.4.17.1|Ceratocystis fimbriata</text></g>
<g id="G8SIQ9" transform="rotate(219.72)"><circle cx="802" r="20" class="c1"/><text class="lb" transform="scale(-1)" x="-828" dy=".35em" text-anchor="end">G8SIQ9|3.4.17.1|Actinoplanes sp.</text></g>
<g id="I0LAG0" transform="rotate(223.33)"><circle cx="802" r="20" class="c1"/><text class="lb" transform="scale(-1)" x="-828" dy=".35em" text-anchor="end">I0LAG0|3.4.17.1|Micromonospora lupini</text></g>
<g id="A0A0N1FK38" transform="rotate(226.94)"><circle cx="802" r="20" class="c2"/><text class="lb" transform="scale(-1)" x="-828" dy=".35em" text-anchor="end">A0A0N1FK38|3.4.17.2|Actinobacteria bacterium</text></g>
<g id="A0A069PAK6" transform="rotate(230.55)"><circle cx="802" r="20" class="c1"/><text class="lb" transform="scale(-1)" x="-828" dy=".35em" text-anchor="end">A0A069PAK6|3.4.17.1|Caballeronia glathei</text></g>
<g id="W6WRE3" transform="rotate(234.16)"><circle cx="802" r="20" class="c2"/><text class="lb" transform="scale(-1)" x="-828" dy=".35em" text-anchor="end">W6WRE3|3.4.17.2|Burkholderia sp.</text></g>
<g id="G0QP71" transform="rotate(237.77)"><circle cx="802" r="20" class="c2"/><text class="lb" transform="scale(-1)" x="-828" dy=".35em" text-anchor="end">G0QP71|3.4.17.2|Ichthyophthirius multifiliis</text></g>
<g id="B6AFX8" transform="rotate(241.38)"><circle cx="802" r="20" class="c2"/><text class="lb" transform="scale(-1)" x="-828" dy=".35em" text-anchor="end">B6AFX8|3.4.17.2|Cryptosporidium muris</text></g>
<g id="B7QLQ3" transform="rotate(244.99)"><circle cx="802" r="20" class="c2"/><text class="lb" transform="scale(-1)" x="-828" dy=".35em" text-anchor="end">B7QLQ3|3.4.17.2|Ixodes scapularis</text></g>
<g id="Q6J6D9" transform="rotate(248.60)"><circle cx="802" r="20" class="c1"/><text class="lb" transform="scale(-1)" x="-828" dy=".35em" text-anchor="end">Q6J6D9|3.4.17.1|Aedes aegypti</text></g>
<g id="Q0QWG3" transform="rotate(252.20)"><circle cx="802" r="20" class="c1"/><text class="lb" transform="scale(-1)" x="-828" dy=".35em" text-anchor="end">Q0QWG3|3.4.17.1|Mayetiola destructor</text></g>
<g id="O61532" transform="rotate(255.81)"><circle cx="802" r="20" class="c1"/><text class="lb" transform="scale(-1)" x="-828" dy=".35em" text-anchor="end">O61532|3.4.17.1|Drosophila heteroneura</text></g>
<g id="A1XG97" transform="rotate(259.42)"><circle cx="802" r="20" class="c1"/><text class="lb" transform="scale(-1)" x="-828" dy=".35em" text-anchor="end">A1XG97|3.4.17.1|Tenebrio molitor</text></g>
<g id="Q6J6D1" transform="rotate(263.03)"><circle cx="802" r="20" class="c2"/><text class="lb" transform="scale(-1)" x="-828" dy=".35em" text-anchor="end">Q6J6D1|3.4.17.2|Aedes aegypti</text></g>
<g id="F1ALX3" transform="rotate(266.64)"><circle cx="802" r="20" class="c2"/><text class="lb" transform="scale(-1)" x="-828" dy=".35em" text-anchor="end">F1ALX3|3.4.17.2|Anopheles stephensi</text></g>
<g id="Q60F93" transform="rotate(270.25)"><circle cx="802" r="20" class="c1"/><text class="lb" x="828" dy=".35em">Q60F93|3.4.17.1|Bombyx mori</text></g>
<g id="E0VDV1" transform="rotate(273.86)"><circle cx="802" r="20" class="c2"/><text class="lb" x="828" dy=".35em">E0VDV1|3.4.17.2|Pediculus humanus</text></g>
<g id="O97389" transform="rotate(277.47)"><circle cx="802" r="20" class="c1"/><text class="lb" x="828" dy=".35em">O97389|3.4.17.1|Helicoverpa armigera</text></g>
<g id="Q3T905" transform="rotate(281.08)"><circle cx="802" r="20" class="c2"/><text class="lb" x="828" dy=".35em">Q3T905|3.4.17.2|Helicoverpa zea</text></g>
<g id="Q6J660" transform="rotate(284.69)"><circle cx="802" r="20" class="c2"/><text class="lb" x="828" dy=".35em">Q6J660|3.4.17.2|Aedes polynesiensis</text></g>
<g id="Q6J659" transform="rotate(288.29)"><circle cx="802" r="20" class="c2"/><text class="lb" x="828" dy=".35em">Q6J659|3.4.17.2|Ochlerotatus triseriatus</text></g>
<g id="Q6J658" transform="rotate(291.90)"><circle cx="802" r="20" class="c2"/><text class="lb" x="828" dy=".35em">Q6J658|3.4.17.2|Ochlerotatus epactius</text></g>
<g id="B0DMB9" transform="rotate(295.51)"><circle cx="802" r="20" class="c1"/><text class="lb" x="828" dy=".35em">B0DMB9|3.4.17.1|Laccaria bicolor</text></g>
<g id="A0A084GG21" transform="rotate(299.12)"><circle cx="802" r="20" class="c2"/><text class="lb" x="828" dy=".35em">A0A084GG21|3.4.17.2|Scedosporium apiospermum</text></g>
<g id="B5LXD6" transform="rotate(302.73)"><circle cx="802" r="20" class="c1"/><text class="lb" x="828" dy=".35em">B5LXD6|3.4.17.1|Metarhizium anisopliae</text></g>
<g id="C5PGK8" transform="rotate(306.34)"><circle cx="802" r="20" class="c1"/><text class="lb" x="828" dy=".35em">C5PGK8|3.4.17.1|Coccidioides posadasii</text></g>
<g id="PV-Unigene40656" transform="rotate(309.95)"><text class="lb" x="828" dy=".35em">Protopalythoa variabilis|Unigene40656</text></g>
<g id="PV-Unigene22455" transform="rotate(313.56)"><text class="lb" x="828" dy=".35em">Protopalythoa variabilis|Unigene22455</text></g>
<g id="PV-Unigene36916" transform="rotate(317.17)"><text class="lb" x="828" dy=".35em">Protopalythoa variabilis|Unigene36916</text></g>
<g id="PV-CL3273-Contig1" transform="rotate(320.78)"><text class="lb" x="828" dy=".35em">Protopalythoa variabilis|CL3273.Contig1</text></g>
<g id="PV-CL3273-Contig2" transform="rotate(324.38)"><text class="lb" x="828" dy=".35em">Protopalythoa variabilis|CL3273.Contig2</text></g>
<g id="Q8AXN5" transform="rotate(327.99)"><circle cx="802" r="20" class="c15"/><text class="lb" x="828" dy=".35em">Q8AXN5|3.4.17.15|Paralichthys olivaceus</text></g>
<g id="Q9UI42" transform="rotate(331.60)"><circle cx="802" r="20" class="c1"/><text class="lb" x="828" dy=".35em">Q9UI42|3.4.17.1|Homo sapiens</text></g>
<g id="P48052" transform="rotate(335.21)"><circle cx="802" r="20" class="c15"/><text class="lb" x="828" dy=".35em">P48052|3.4.17.15|Homo sapiens</text></g>
<g id="Q504N0" transform="rotate(338.82)"><circle cx="802" r="20" class="c15"/><text class="lb" x="828" dy=".35em">Q504N0|3.4.17.15|Mus musculus</text></g>
<g id="P19222" transform="rotate(342.43)"><circle cx="802" r="20" class="c15"/><text class="lb" x="828" dy=".35em">P19222|3.4.17.15|Rattus norvegicus</text></g>
<g id="E3TGR3" transform="rotate(346.04)"><circle cx="802" r="20" class="c1"/><text class="lb" x="828" dy=".35em">E3TGR3|3.4.17.1|Ictalurus punctatus</text></g>
<g id="Q8AXN4" transform="rotate(349.65)"><circle cx="802" r="20" class="c1"/><text class="lb" x="828" dy=".35em">Q8AXN4|3.4.17.1|Paralichthys olivaceus</text></g>
<g id="P00731" transform="rotate(353.26)"><circle cx="802" r="20" class="c1"/><text class="lb" x="828" dy=".35em">P00731|3.4.17.1|Rattus norvegicus</text></g>
<g id="P00730" transform="rotate(356.87)"><circle cx="802" r="20" class="c1"/><text class="lb" x="828" dy=".35em">P00730|3.4.17.1|Bos taurus</text></g>
<g id="P09954" transform="rotate(0.47)"><circle cx="802" r="20" class="c1"/><text class="lb" x="828" dy=".35em">P09954|3.4.17.1|Sus scrofa</text></g>
<g id="Q5U901" transform="rotate(4.08)"><circle cx="802" r="20" class="c1"/><text class="lb" x="828" dy=".35em">Q5U901|3.4.17.1|Mus musculus</text></g>
<g id="Q2KIG3" transform="rotate(7.69)"><circle cx="802" r="20" class="c20"/><text class="lb" x="828" dy=".35em">Q2KIG3|3.4.17.20|Bos taurus</text></g>
<g id="Q96IY4" transform="rotate(11.30)"><circle cx="802" r="20" class="c20"/><text class="lb" x="828" dy=".35em">Q96IY4|3.4.17.20|Homo sapiens</text></g>
<g id="Q9JHH6" transform="rotate(14.91)"><circle cx="802" r="20" class="c20"/><text class="lb" x="828" dy=".35em">Q9JHH6|3.4.17.20|Mus musculus</text></g>
<g id="Q9EQV9" transform="rotate(18.52)"><circle cx="802" r="20" class="c20"/><text class="lb" x="828" dy=".35em">Q9EQV9|3.4.17.20|Rattus norvegicus</text></g>
<g id="P19223" transform="rotate(22.13)"><circle cx="802" r="20" class="c2"/><text class="lb" x="828" dy=".35em">P19223|3.4.17.2|Rattus norvegicus</text></g>
<g id="P00732" transform="rotate(25.74)"><circle cx="802" r="20" class="c2"/><text class="lb" x="828" dy=".35em">P00732|3.4.17.2|Bos taurus</text></g>
<g id="P09955" transform="rotate(29.35)"><circle cx="802" r="20" class="c2"/><text class="lb" x="828" dy=".35em">P09955|3.4.17.2|Sus scrofa</text></g>
<g id="P55261" transform="rotate(32.96)"><circle cx="802" r="20" class="c2"/><text class="lb" x="828" dy=".35em">P55261|3.4.17.2|Canis lupus</text></g>
<g id="P15086" transform="rotate(36.56)"><circle cx="802" r="20" class="c2"/><text class="lb" x="828" dy=".35em">P15086|3.4.17.2|Homo sapiens</text></g>
</g>
<g id="bootstrap-labels">
<text class="bs r" transform="rotate(83.3) translate(171)" dy=".35em">1.0</text>
<text class="bs r" transform="rotate(59.0) translate(562)" dy=".35em">1.0</text>
<text class="bs r" transform="rotate(53.2) translate(651)" dy=".35em">1.0</text>
<text class="bs r" transform="rotate(64.6) translate(633)" dy=".35em">1.0</text>
<text class="bs r" transform="rotate(60.2) translate(677)" dy=".35em">1.0</text>
<text class="bs r" transform="rotate(69.0) translate(666)" dy=".35em">1.0</text>
<text class="bs b" transform="rotate(74.7) translate(735)" dy=".35em">0.6</text>
<text class="bs p" transform="rotate(88.9) translate(709)" dy=".35em">0.8</text>
<text class="bs b" transform="rotate(91.5) translate(667) scale(-1)" dy=".35em">0.6</text>
<text class="bs p" transform="rotate(95.3) translate(702) scale(-1)" dy=".35em">0.7</text>
<text class="bs r" transform="rotate(97.9) translate(743) scale(-1)" dy=".35em">0.9</text>
<text class="bs r" transform="rotate(109.1) translate(734) scale(-1)" dy=".35em">1.0</text>
<text class="bs p" transform="rotate(119.5) translate(745) scale(-1)" dy=".35em">0.7</text>
<text class="bs r" transform="rotate(130.4) translate(737) scale(-1)" dy=".35em">1.0</text>
<text class="bs b" transform="rotate(169.8) translate(192) scale(-1)" dy=".35em">0.6</text>
<text class="bs r" transform="rotate(173.4) translate(739) scale(-1)" dy=".35em">1.0</text>
<text class="bs r" transform="rotate(155.5) translate(740) scale(-1)" dy=".35em">1.0</text>
<text class="bs r" transform="rotate(152.8) translate(701) scale(-1)" dy=".35em">1.0</text>
<text class="bs p" transform="rotate(189.4) translate(404) scale(-1)" dy=".35em">0.7</text>
<text class="bs r" transform="rotate(191.4) translate(736) scale(-1)" dy=".35em">1.0</text>
<text class="bs r" transform="rotate(194.9) translate(700) scale(-1)" dy=".35em">1.0</text>
<text class="bs r" transform="rotate(198.4) translate(735) scale(-1)" dy=".35em">1.0</text>
<text class="bs r" transform="rotate(206.5) translate(640) scale(-1)" dy=".35em">0.9</text>
<text class="bs r" transform="rotate(209.3) translate(736) scale(-1)" dy=".35em">1.0</text>
<text class="bs r" transform="rotate(220.2) translate(705) scale(-1)" dy=".35em">1.0</text>
<text class="bs r" transform="rotate(228.4) translate(696) scale(-1)" dy=".35em">1.0</text>
<text class="bs r" transform="rotate(231.2) translate(737) scale(-1)" dy=".35em">1.0</text>
<text class="bs p" transform="rotate(237.8) translate(475) scale(-1)" dy=".35em">0.7</text>
<text class="bs r" transform="rotate(250.25) translate(607) scale(-1)" dy=".35em">1.0</text>
<text class="bs p" transform="rotate(253.8) translate(705) scale(-1)" dy=".35em">0.7</text>
<text class="bs p" transform="rotate(256.2) translate(738) scale(-1)" dy=".35em">0.7</text>
<text class="bs r" transform="rotate(263.3) translate(647) scale(-1)" dy=".35em">1.0</text>
<text class="bs p" transform="rotate(264.9) translate(403) scale(-1)" dy=".35em">0.8</text>
<text class="bs r" transform="rotate(273.0) translate(678)" dy=".35em">1.0</text>
<text class="bs b" transform="rotate(278.6) translate(626)" dy=".35em">0.5</text>
<text class="bs r" transform="rotate(280.2) translate(709)" dy=".35em">1.0</text>
<text class="bs p" transform="rotate(284.0) translate(671)" dy=".35em">0.8</text>
<text class="bs r" transform="rotate(288.25) translate(705)" dy=".35em">1.0</text>
<text class="bs r" transform="rotate(290.9) translate(739)" dy=".35em">1.0</text>
<text class="bs b" transform="rotate(290.2) translate(440)" dy=".35em">0.6</text>
<text class="bs b" transform="rotate(299.7) translate(542)" dy=".35em">0.6</text>
<text class="bs r" transform="rotate(302.6) translate(700)" dy=".35em">1.0</text>
<text class="bs r" transform="rotate(305.1) translate(737)" dy=".35em">1.0</text>
<text class="bs r" transform="rotate(314.5) translate(564)" dy=".35em">1.0</text>
<text class="bs b" transform="rotate(318.0) translate(664)" dy=".35em">0.6</text>
<text class="bs b" transform="rotate(320.9) translate(700)" dy=".35em">0.6</text>
<text class="bs r" transform="rotate(323.4) translate(736)" dy=".35em">1.0</text>
<text class="bs r" transform="rotate(335.9) translate(517)" dy=".35em">0.9</text>
<text class="bs b" transform="rotate(332.0) translate(630)" dy=".35em">0.6</text>
<text class="bs r" transform="rotate(335.75) translate(663)" dy=".35em">0.9</text>
<text class="bs r" transform="rotate(338.7) translate(697)" dy=".35em">1.0</text>
<text class="bs r" transform="rotate(341.7) translate(740)" dy=".35em">1.0</text>
<text class="bs r" transform="rotate(342.6) translate(592)" dy=".35em">1.0</text>
<text class="bs r" transform="rotate(348.8) translate(708)" dy=".35em">0.9</text>
<text class="bs r" transform="rotate(353.1) translate(633)" dy=".35em">1.0</text>
<text class="bs r" transform="rotate(357.0) translate(698)" dy=".35em">1.0</text>
<text class="bs r" transform="rotate(359.6) translate(737)" dy=".35em">0.9</text>
<text class="bs p" transform="rotate(357.9) translate(554)" dy=".35em">0.7</text>
<text class="bs r" transform="rotate(12.7) translate(590)" dy=".35em">0.9</text>
<text class="bs r" transform="rotate(12.1) translate(667)" dy=".35em">1.0</text>
<text class="bs r" transform="rotate(14.9) translate(699)" dy=".35em">1.0</text>
<text class="bs r" transform="rotate(18.0) translate(738)" dy=".35em">1.0</text>
<text class="bs b" transform="rotate(20.0) translate(626)" dy=".35em">0.6</text>
<text class="bs r" transform="rotate(27.95) translate(666)" dy=".35em">1.0</text>
<text class="bs r" transform="rotate(28.7) translate(737)" dy=".35em">0.9</text>
<text class="bs r" transform="rotate(32.6) translate(702)" dy=".35em">1.0</text>
<text class="bs b" transform="rotate(36.2) translate(739)" dy=".35em">0.6</text>
</g>
</g>
<g id="group-labels">
<g id="label-arthropods" transform="translate(1777 1770) rotate(270.2)"><text class="grp" text-anchor="middle"><textPath href="#ring" startOffset="50%">arthropods</textPath></text></g>
<g id="label-fungus" transform="translate(1777 1770) rotate(299.5)"><text class="grp" text-anchor="middle"><textPath href="#ring" startOffset="50%">fungus</textPath></text></g>
<g id="label-pvariabilis" transform="translate(1777 1770) rotate(317.2)"><text class="grp" style="fill:#000;font-size:90px" text-anchor="middle"><textPath href="#ring" startOffset="50%">P. variabilis</textPath></text></g>
<g id="label-vertebrates" transform="translate(1777 1770) rotate(3.6)"><text class="grp" text-anchor="middle"><textPath href="#ring" startOffset="50%">vertebrates</textPath></text></g>
<g id="label-bacteria" transform="translate(1777 1770) rotate(187.1)"><text class="grp" text-anchor="middle"><textPath href="#ring" startOffset="50%">bacteria and alveolates</textPath></text></g>
</g>
<g id="legend">
<rect x="65" y="61" width="518" height="527" fill="#fff" stroke="#e6e6e6" stroke-width="2"/>
<text x="81" y="110" font-size="43" font-weight="bold" fill="#111">EC numbers</text>
<line x1="74" y1="134" x2="574" y2="134" stroke="#555" stroke-width="2"/>
<circle cx="109" cy="183" r="29" class="c1" stroke="#333" stroke-width="1.5"/>
<text class="lg" x="168" y="199">3.4.17.1</text>
<circle cx="109" cy="271" r="29" class="c2" stroke="#333" stroke-width="1.5"/>
<text class="lg" x="168" y="287">3.4.17.2</text>
<circle cx="109" cy="360" r="29" class="c15" stroke="#333" stroke-width="1.5"/>
<text class="lg" x="168" y="375">3.4.17.15</text>
<circle cx="109" cy="447" r="29" class="c20" stroke="#333" stroke-width="1.5"/>
<text class="lg" x="168" y="462">3.4.17.20</text>
<circle cx="109" cy="536" r="29" class="c19" stroke="#333" stroke-width="1.5"/>
<text class="lg" x="168" y="549">outgroup (3.4.17.19)</text>
</g>
</svg>
